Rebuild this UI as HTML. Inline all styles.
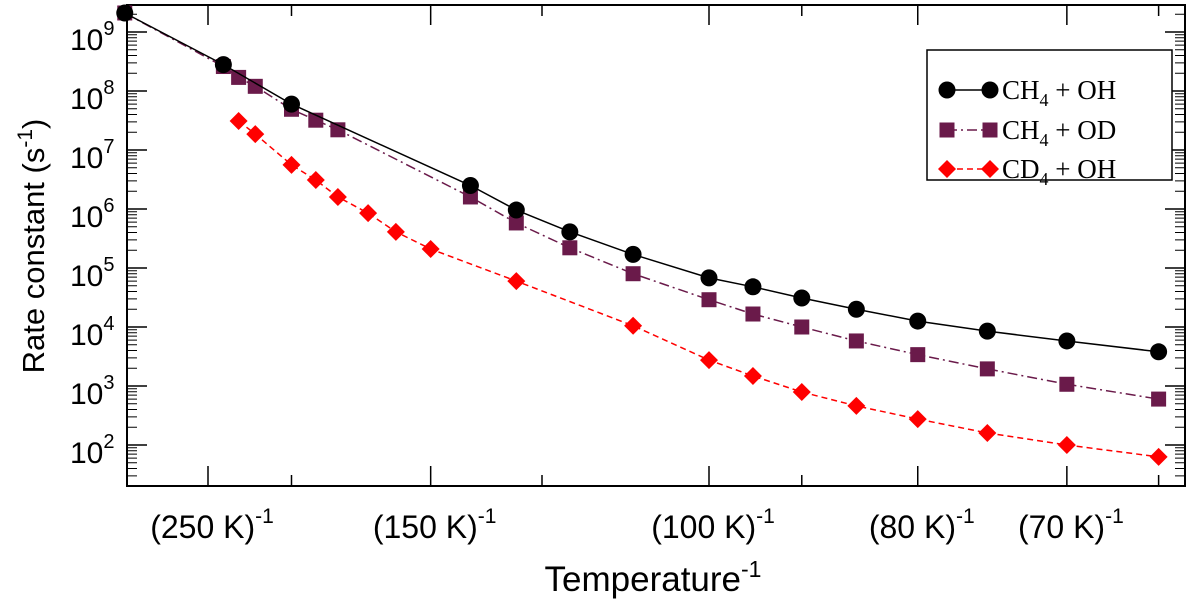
<!DOCTYPE html>
<html><head><meta charset="utf-8"><style>
body{margin:0;background:#fff;}
svg text{font-family:"Liberation Sans",sans-serif;}
</style></head><body>
<svg id="chart" width="1200" height="603" xmlns="http://www.w3.org/2000/svg"></svg>
<script>
const tempsOH=[333,239,200,140,130,120,110,100,95,90,85,80,75,70,65];
const valsOH=[2.1e9,2.8e8,6e7,2.5e6,9.6e5,4.1e5,1.7e5,6.8e4,4.8e4,3.1e4,2e4,1.26e4,8.5e3,5.8e3,3.8e3];
const tempsOD=[333,239,229,219,200,189,180,140,130,120,110,100,95,90,85,80,75,70,65];
const valsOD=[2.1e9,2.6e8,1.7e8,1.2e8,4.9e7,3.2e7,2.2e7,1.6e6,5.8e5,2.2e5,8e4,2.9e4,1.66e4,1e4,5.8e3,3.4e3,1.95e3,1.07e3,6e2];
const tempsCD=[229,219,200,189,180,169,160,150,130,110,100,95,90,85,80,75,70,65];
const valsCD=[3.1e7,1.86e7,5.6e6,3.1e6,1.6e6,8.5e5,4.1e5,2.1e5,6e4,1.05e4,2.75e3,1.48e3,7.9e2,4.6e2,2.75e2,1.6e2,1e2,6.3e1];
const xLabelTemps=[250,150,100,80,70];
const xTickTemps=[250,200,150,125,100,90,80,70,65];
const yExps=[2,3,4,5,6,7,8,9];

const NS="http://www.w3.org/2000/svg";
const svg=document.getElementById('chart');
const L=127,R=1185,T=5,B=486;
const xs=t=>-126+83500/t;
const ys=v=>32+(9-Math.log10(v))*59;
function el(tag,attrs,parent){const e=document.createElementNS(NS,tag);for(const k in attrs)e.setAttribute(k,attrs[k]);(parent||svg).appendChild(e);return e;}

const frame=el('rect',{x:L,y:T,width:R-L,height:B-T,fill:'none',stroke:'#000','stroke-width':2});



xTickTemps.forEach(t=>{const x=xs(t);const len=xLabelTemps.includes(t)?20:11;
 const a=el('line',{x1:x,x2:x,y1:B,y2:B-len,stroke:'#000','stroke-width':1.5});
 
 
 const b=el('line',{x1:x,x2:x,y1:T,y2:T+len,stroke:'#000','stroke-width':1.5});
 
 
});
xLabelTemps.forEach(t=>{const x=xs(t);
 const tx=el('text',{x:x+4,y:538,'font-size':32,'text-anchor':'middle'});
 
 
 tx.innerHTML='('+t+' K)<tspan dy="-15" font-size="21">-1</tspan>';
});
for(let e=1;e<=9;e++){for(let m=2;m<=9;m++){const y=ys(m*Math.pow(10,e));if(y<T||y>B)continue;
 const a=el('path',{d:`M${L},${y}H${L+10}M${R},${y}H${R-10}`,stroke:'#000','stroke-width':1});
 
 
}}
yExps.forEach(e=>{const y=ys(Math.pow(10,e));
 const a=el('line',{x1:L,x2:L+20,y1:y,y2:y,stroke:'#000','stroke-width':1.5});
 
 
 const b=el('line',{x1:R,x2:R-20,y1:y,y2:y,stroke:'#000','stroke-width':1.5});
 
 
 const tx=el('text',{x:70,y:y+18,'font-size':30});
 
 
 tx.innerHTML='10<tspan dy="-15" font-size="20">'+e+'</tspan>';
});

const xt=el('text',{x:653,y:591,'font-size':35,'text-anchor':'middle'});


xt.innerHTML='Temperature<tspan dy="-14" font-size="23">-1</tspan>';
const yt=el('text',{transform:'translate(44,246) rotate(-90)','font-size':31,'text-anchor':'middle'});


yt.innerHTML='Rate constant (s<tspan dy="-12" font-size="21">-1</tspan><tspan dy="12">)</tspan>';

function marker(g,type,x,y,color){
 let m;
 if(type==='circle')m=el('circle',{cx:x,cy:y,r:8.5,fill:color},g);
 else if(type==='square')m=el('rect',{x:x-7.5,y:y-7.5,width:15,height:15,fill:color},g);
 else m=el('polygon',{points:`${x},${y-9} ${x+9},${y} ${x},${y+9} ${x-9},${y}`,fill:color},g);
 
 
}
function series(name,temps,vals,color,dash,type){
 const g=el('g',{});
 
 
 const pts=temps.map((t,i)=>xs(t)+','+ys(vals[i])).join(' ');
 const pl=el('polyline',{points:pts,fill:'none',stroke:color,'stroke-width':1.5,'stroke-dasharray':dash},g);
 
 
 temps.forEach((t,i)=>marker(g,type,xs(t),ys(vals[i]),color));
}
series('series-cd4-oh',tempsCD,valsCD,'#ff0000','6,4','diamond');
series('series-ch4-od',tempsOD,valsOD,'#6a1a4a','10,4,2,4','square');
series('series-ch4-oh',tempsOH,valsOH,'#000000','none','circle');

const lg=el('g',{});


el('rect',{x:927,y:50,width:245,height:130,fill:'#fff',stroke:'#000','stroke-width':1.5},lg);
const entries=[['CH','+ OH','#000','none','circle',90],['CH','+ OD','#6a1a4a','10,4,2,4','square',130],['CD','+ OH','#ff0000','6,4','diamond',169]];
entries.forEach(en=>{
 const g=el('g',{},lg);
 
 
 const y=en[5];
 el('line',{x1:947,x2:990,y1:y,y2:y,stroke:en[2],'stroke-width':1.5,'stroke-dasharray':en[3]},g);
 marker(g,en[4],947,y,en[2]);marker(g,en[4],990,y,en[2]);
 const t=el('text',{x:1002,y:y+9,'font-size':27},g);
 t.setAttribute('style','font-family:"Liberation Serif",serif');
 t.innerHTML=en[0]+'<tspan dy="7" font-size="18">4</tspan><tspan dy="-7"> '+en[1]+'</tspan>';
});
</script>
</body></html>
